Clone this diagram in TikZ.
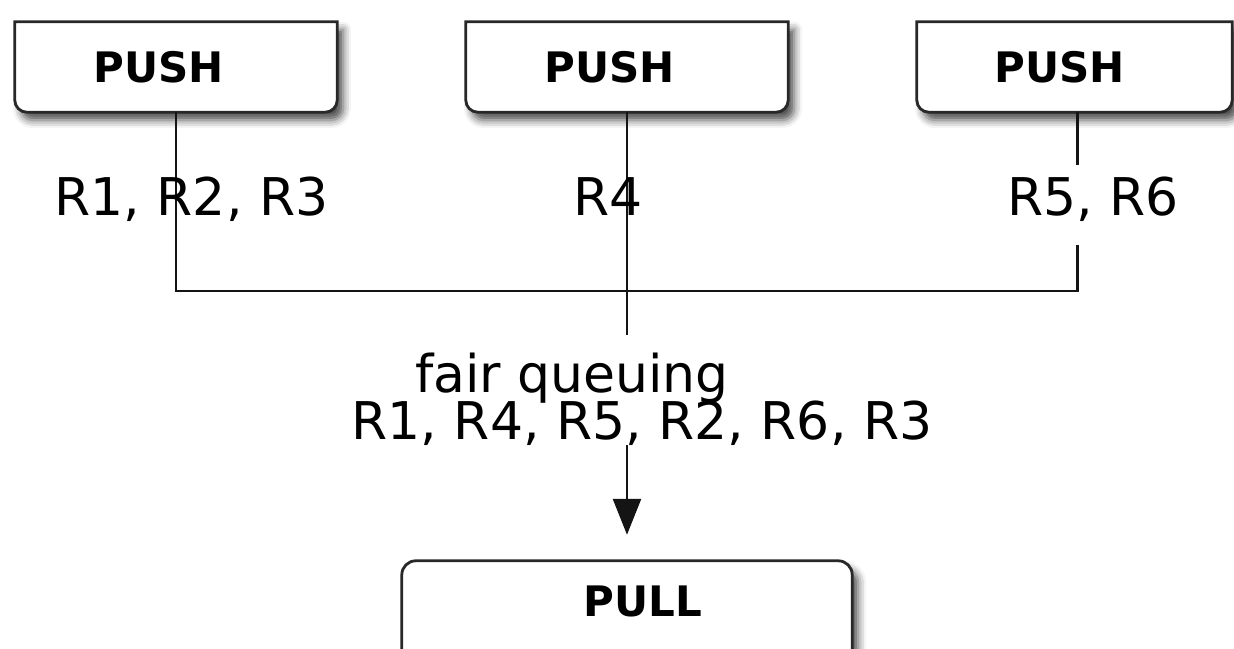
\documentclass[tikz,border=0pt]{standalone}
\usepackage{fontspec}
\setmainfont{DejaVu Sans}
\usetikzlibrary{arrows.meta,shadows.blur}
\definecolor{framecolor}{RGB}{40,40,40}
\definecolor{wirecolor}{RGB}{20,20,20}

\newcommand{\pushframe}[1]{%
  \draw[boxframe] (#1.north west) -- (#1.north east)
    -- ([yshift=12pt]#1.south east) arc[start angle=0, end angle=-90, radius=12pt]
    -- ([xshift=12pt]#1.south west) arc[start angle=270, end angle=180, radius=12pt]
    -- cycle;}

\begin{document}
\begin{tikzpicture}[x=1pt, y=1pt]
  \tikzstyle{boxframe} = [draw=framecolor, line width=2.8pt, fill=white, blur shadow={shadow xshift=6pt, shadow yshift=-8pt, shadow opacity=70, shadow blur radius=8pt}]
  \tikzstyle{boxspace} = [inner sep=0pt, minimum height=90pt]
  \tikzstyle{boxlabel} = [font=\fontsize{42}{50}\selectfont\bfseries, inner sep=0pt]
  \tikzstyle{flowlabel} = [font=\fontsize{52}{62}\selectfont, inner sep=0pt, anchor=base]
  \tikzstyle{wire} = [wirecolor, line width=2.6pt]

  \useasboundingbox (0,0) rectangle (1234,648);

  \node[boxspace, minimum width=322pt] (push1) at (176,581) {};
  \node[boxspace, minimum width=322pt] (push2) at (627,581) {};
  \node[boxspace, minimum width=315pt] (push3) at (1074.5,581) {};
  \node[boxspace, minimum width=450pt, minimum height=120pt] (pull) at (627,27) {};

  \pushframe{push1}
  \pushframe{push2}
  \pushframe{push3}
  \draw[boxframe, rounded corners=14pt] (pull.south west) rectangle (pull.north east);

  \node[boxlabel] (pushlabel1) at ([xshift=-17pt]push1.center) {PUSH};
  \node[boxlabel] (pushlabel2) at ([xshift=-17pt]push2.center) {PUSH};
  \node[boxlabel] (pushlabel3) at ([xshift=-14.5pt]push3.center) {PUSH};
  \node[boxlabel] (pulllabel) at ([xshift=16pt, yshift=-41pt]pull.north) {PULL};

  \coordinate (join) at (627,357);
  \coordinate (queue) at (627,313);
  \draw[wire] (push1.south) |- (join) -| ([xshift=3pt]push3.south);
  \draw[wire] (push2.south) -- (queue);

  \node[flowlabel] (in1) at (191.5,432) {R1, R2, R3};
  \node[flowlabel] (in2) at (608,432) {R4};
  \node[flowlabel, fill=white, text height=36pt, text depth=14pt, inner ysep=15pt, inner xsep=2pt] (in3) at (1093,432) {R5, R6};

  \node[flowlabel] (fair) at (572,255) {fair queuing};
  \node[flowlabel] (order) at (642,208) {R1, R4, R5, R2, R6, R3};

  \draw[wire, -{Triangle[length=36pt, width=28pt]}, shorten >=26pt] ([yshift=-5pt]order.base -| pull.north) -- (pull.north);
\end{tikzpicture}
\end{document}
